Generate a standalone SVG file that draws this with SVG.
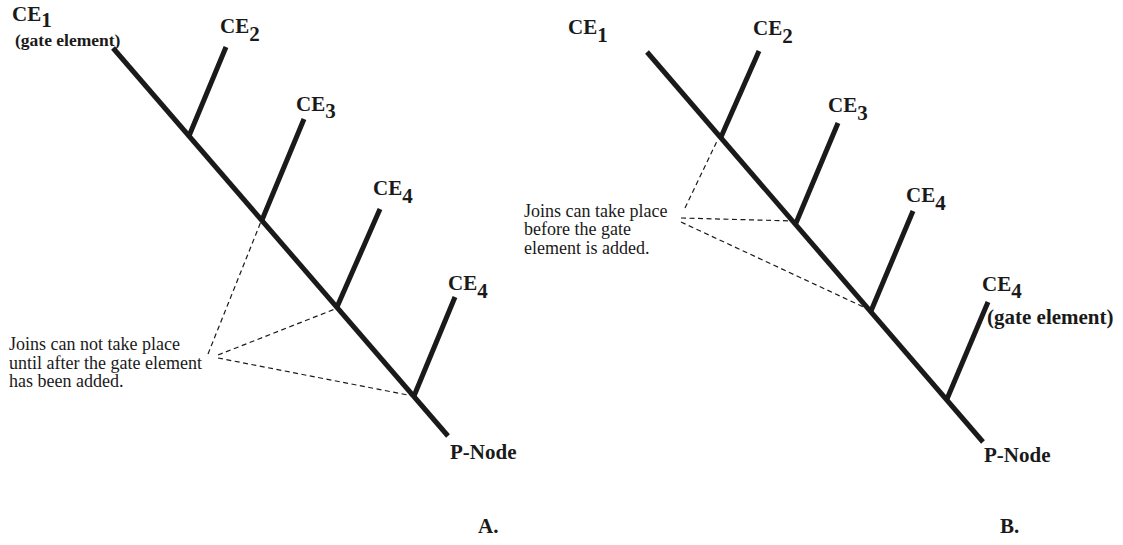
<svg xmlns="http://www.w3.org/2000/svg" width="1123" height="545" viewBox="0 0 1123 545">
<style>
.br{stroke:#1a1a1a;stroke-width:5;fill:none}
.dash{stroke:#1a1a1a;stroke-width:1.2;stroke-dasharray:5,3.5;fill:none}
.lbl{font-family:"Liberation Serif","Times New Roman",serif;font-weight:bold;font-size:21px;fill:#1a1a1a}
.note{font-family:"Liberation Serif","Times New Roman",serif;font-size:18px;fill:#1a1a1a}
</style>
<rect width="1123" height="545" fill="#fff"/>
<g id="connectors">
<line class="br" x1="113" y1="48" x2="448" y2="436"/>
<line class="br" x1="189" y1="136" x2="226" y2="47"/>
<line class="br" x1="262" y1="220" x2="304" y2="119"/>
<line class="br" x1="337" y1="307" x2="380" y2="209"/>
<line class="br" x1="414" y1="396" x2="455" y2="297"/>
<line class="dash" x1="208" y1="354" x2="262" y2="219"/>
<line class="dash" x1="218" y1="355" x2="335" y2="309"/>
<line class="dash" x1="218" y1="358" x2="413" y2="396"/>
<line class="br" x1="647" y1="52" x2="983" y2="442"/>
<line class="br" x1="721" y1="137" x2="759" y2="51"/>
<line class="br" x1="796" y1="223" x2="838" y2="123"/>
<line class="br" x1="871" y1="311" x2="913" y2="211"/>
<line class="br" x1="947" y1="399" x2="988" y2="302"/>
<line class="dash" x1="685" y1="208" x2="718" y2="139"/>
<line class="dash" x1="681" y1="218" x2="794" y2="221"/>
<line class="dash" x1="681" y1="222" x2="870" y2="310"/>
</g>
<g id="A-CE1"><text class="lbl" x="12" y="21">CE<tspan dy="6">1</tspan></text><text class="lbl" x="15" y="46" style="font-size:17.5px">(gate element)</text></g>
<g id="A-CE2"><text class="lbl" x="220" y="33">CE<tspan dy="8">2</tspan></text></g>
<g id="A-CE3"><text class="lbl" x="296" y="111">CE<tspan dy="7">3</tspan></text></g>
<g id="A-CE4"><text class="lbl" x="373" y="195">CE<tspan dy="8">4</tspan></text></g>
<g id="A-CE4b"><text class="lbl" x="448" y="290">CE<tspan dy="8">4</tspan></text></g>
<g id="A-PNode"><text class="lbl" x="450" y="459">P-Node</text></g>
<g id="A-note"><text class="note" x="9" y="350">Joins can not take place</text><text class="note" x="9" y="368.5">until after the gate element</text><text class="note" x="9" y="387">has been added.</text></g>
<g id="A-label"><text class="lbl" x="478" y="533">A.</text></g>
<g id="B-CE1"><text class="lbl" x="568" y="34">CE<tspan dy="8">1</tspan></text></g>
<g id="B-CE2"><text class="lbl" x="753" y="35">CE<tspan dy="8">2</tspan></text></g>
<g id="B-CE3"><text class="lbl" x="828" y="112">CE<tspan dy="8">3</tspan></text></g>
<g id="B-CE4"><text class="lbl" x="906" y="202">CE<tspan dy="8">4</tspan></text></g>
<g id="B-CE4b"><text class="lbl" x="982" y="291">CE<tspan dy="7">4</tspan></text><text class="lbl" x="987" y="324">(gate element)</text></g>
<g id="B-PNode"><text class="lbl" x="984" y="462">P-Node</text></g>
<g id="B-note"><text class="note" x="524" y="216.5">Joins can take place</text><text class="note" x="524" y="235">before the gate</text><text class="note" x="524" y="253.5">element is added.</text></g>
<g id="B-label"><text class="lbl" x="1000" y="533">B.</text></g>
</svg>
